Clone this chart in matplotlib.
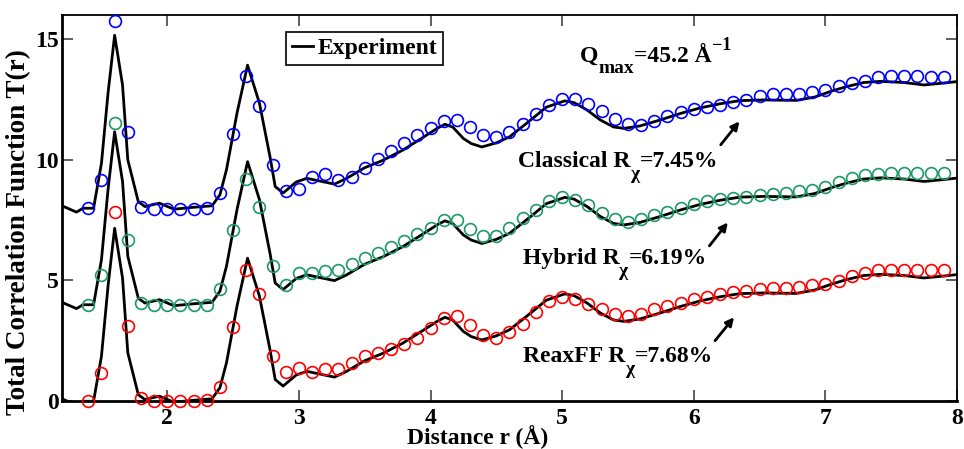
import matplotlib
matplotlib.use("Agg")

import matplotlib.pyplot as plt
import numpy as np

plt.rcParams["font.family"] = ["Liberation Serif", "DejaVu Serif"]
plt.rcParams["font.weight"] = "bold"

r_exp = [1.20, 1.31, 1.36, 1.44, 1.50, 1.55, 1.60, 1.66, 1.70, 1.78,
         1.83, 1.94, 2.05, 2.20, 2.34, 2.40, 2.45, 2.53, 2.61, 2.70,
         2.78, 2.82, 2.88, 2.98, 3.06, 3.27, 3.36, 3.50, 3.64, 3.79,
         3.95, 4.05, 4.11, 4.17, 4.25, 4.31, 4.39, 4.50, 4.60, 4.70,
         4.78, 4.88, 5.02, 5.09, 5.19, 5.29, 5.39, 5.47, 5.59, 5.74,
         5.90, 6.05, 6.20, 6.35, 6.53, 6.78, 6.92, 7.05, 7.16, 7.29,
         7.42, 7.60, 7.75, 7.90, 8.00]
t_exp = [0.09, -0.17, -0.01, -0.01, 1.86, 4.77, 7.16, 5.10, 2.00, 0.26,
         0.06, 0.20, -0.05, 0.03, 0.09, 0.55, 1.59, 3.94, 5.92, 4.35,
         2.14, 0.89, 0.62, 1.08, 1.23, 0.99, 1.22, 1.67, 1.98, 2.40,
         2.95, 3.30, 3.47, 3.35, 2.88, 2.67, 2.53, 2.70, 2.95, 3.38,
         3.73, 4.18, 4.44, 4.37, 4.06, 3.65, 3.36, 3.30, 3.40, 3.64,
         3.92, 4.15, 4.32, 4.45, 4.48, 4.46, 4.60, 4.85, 5.03, 5.20,
         5.25, 5.20, 5.10, 5.18, 5.24]

# -- model points on the 0.1 A grid --
r_model = np.round(np.arange(1.4, 7.95, 0.1), 1)

t_reaxff = [0.00, 1.17, 7.85, 3.11, 0.11, 0.02,
            0.00, 0.00, 0.00, 0.03, 0.60, 3.08, 5.44, 4.42, 1.87, 1.22,
            1.37, 1.22, 1.33, 1.33, 1.56, 1.87, 2.01, 2.14, 2.35, 2.60,
            3.04, 3.42, 3.53, 3.13, 2.74, 2.63, 2.84, 3.19, 3.68, 4.14,
            4.30, 4.21, 4.03, 3.81, 3.62, 3.54, 3.62, 3.80, 3.94, 4.07,
            4.22, 4.31, 4.44, 4.51, 4.56, 4.65, 4.67, 4.67, 4.74, 4.81,
            4.85, 4.99, 5.19, 5.32, 5.41, 5.45, 5.45, 5.44, 5.41, 5.44]

t_hybrid = [0.00, 1.23, 7.52, 2.68, 0.05, -0.02,
            -0.02, -0.02, -0.02, -0.02, 0.63, 3.07, 5.21, 4.06, 1.61, 0.81,
            1.30, 1.30, 1.37, 1.44, 1.68, 1.92, 2.15, 2.40, 2.65, 2.93,
            3.17, 3.51, 3.51, 3.14, 2.85, 2.86, 3.17, 3.60, 3.93, 4.27,
            4.45, 4.34, 4.13, 3.79, 3.54, 3.44, 3.54, 3.72, 3.85, 4.02,
            4.17, 4.27, 4.37, 4.41, 4.45, 4.55, 4.59, 4.64, 4.69, 4.76,
            4.87, 5.06, 5.24, 5.38, 5.42, 5.45, 5.45, 5.45, 5.45, 5.47]

t_classical = [0.00, 1.17, 7.74, 3.13, 0.06, -0.03,
               -0.03, -0.03, -0.03, 0.00, 0.62, 3.08, 5.46, 4.21, 1.79, 0.71,
               0.79, 1.28, 1.42, 1.14, 1.28, 1.65, 2.03, 2.37, 2.69, 3.01,
               3.32, 3.59, 3.66, 3.36, 3.01, 2.93, 3.13, 3.47, 3.90, 4.28,
               4.52, 4.52, 4.32, 4.00, 3.69, 3.48, 3.45, 3.59, 3.80, 3.96,
               4.10, 4.17, 4.28, 4.40, 4.49, 4.63, 4.73, 4.74, 4.74, 4.80,
               4.90, 5.04, 5.18, 5.25, 5.42, 5.49, 5.49, 5.46, 5.43, 5.43]

offsets = [0, 4, 8]
models = [t_reaxff, t_hybrid, t_classical]
colors = ["#ff0000", "#1e9a66", "#0000ff"]
names = ["ReaxFF R", "Hybrid R", "Classical R"]
r_chi = ["=7.68%", "=6.19%", "=7.45%"]


def rich_text(ax, x, y, parts):
    """Chain text pieces left to right; each part = (text, size, dy in pt)."""
    s, size, dy = parts[0]
    prev = ax.text(x, y, s, fontsize=size, fontweight="bold",
                   ha="left", va="baseline")
    for s, size, dy in parts[1:]:
        prev = ax.annotate(s, xy=(1, y), xycoords=(prev, "data"),
                           xytext=(0, dy), textcoords="offset points",
                           fontsize=size, fontweight="bold",
                           ha="left", va="baseline", annotation_clip=False)
    return prev


fig = plt.figure(figsize=(9.64, 4.49), dpi=100)
ax = fig.add_axes([0.0643, 0.1069, 0.9284, 0.8597])

for i, (off, vals, col) in enumerate(zip(offsets, models, colors)):
    ax.plot(r_exp, np.array(t_exp) + off, color="black", lw=2.0,
            label="Experiment" if i == 0 else None, zorder=3)
    ax.plot(r_model, np.array(vals) + off, ls="none", marker="o", ms=8.5,
            mfc="none", mec=col, mew=1.2, clip_on=False, zorder=4)

# labels + arrows (positions in data units)
text_pos = [(4.705, 1.62), (4.70, 5.68), (4.667, 9.71)]
arrow_tail = [(6.162, 2.50), (6.119, 6.43), (6.205, 10.62)]
arrow_head = [(6.306, 3.47), (6.259, 7.40), (6.347, 11.59)]
for nm, rc, tp, at, ah in zip(names, r_chi, text_pos, arrow_tail, arrow_head):
    rich_text(ax, tp[0], tp[1], [(nm, 17, 0), ("χ", 14, -9), (rc, 17, 0)])
    ax.annotate("", xy=ah, xytext=at,
                arrowprops=dict(arrowstyle="-|>", lw=2, color="black",
                                mutation_scale=12, shrinkA=0, shrinkB=0))

rich_text(ax, 5.136, 14.04, [("Q", 17, 0), ("max", 14, -8),
                             ("=45.2 Å", 17, 0), ("\u22121", 13, 9)])

ax.set_xlim(1.2, 8)
ax.set_ylim(0, 16)
ax.set_xticks([2, 3, 4, 5, 6, 7, 8])
ax.set_yticks([0, 5, 10, 15])
ax.tick_params(direction="in", length=8, width=1.2, top=True, right=True,
               labelsize=17, color="#444444")
ax.tick_params(axis="y", pad=2)
ax.tick_params(axis="x", pad=5)
for lab in ax.get_xticklabels() + ax.get_yticklabels():
    lab.set_fontweight("bold")

for side in ["bottom", "left"]:
    ax.spines[side].set_linewidth(2.0)
for side in ["top", "right"]:
    ax.spines[side].set_linewidth(1.3)

ax.set_xlabel("Distance r (Å)", fontsize=17, fontweight="bold", labelpad=-3)
ax.xaxis.label.set_x(0.464)
ax.set_ylabel("Total Correlation Function T(r)", fontsize=19.5,
              fontweight="bold")
ax.yaxis.set_label_coords(-0.0346, 0.438)

leg = ax.legend(loc="upper left", bbox_to_anchor=(0.25, 0.957),
                borderaxespad=0, fancybox=False, framealpha=1,
                edgecolor="black", fontsize=17, handlelength=0.9,
                handletextpad=0.2, borderpad=0.25)
leg.get_frame().set_linewidth(1.2)
for t in leg.get_texts():
    t.set_fontweight("bold")

fig.savefig("out.png", dpi=100)
